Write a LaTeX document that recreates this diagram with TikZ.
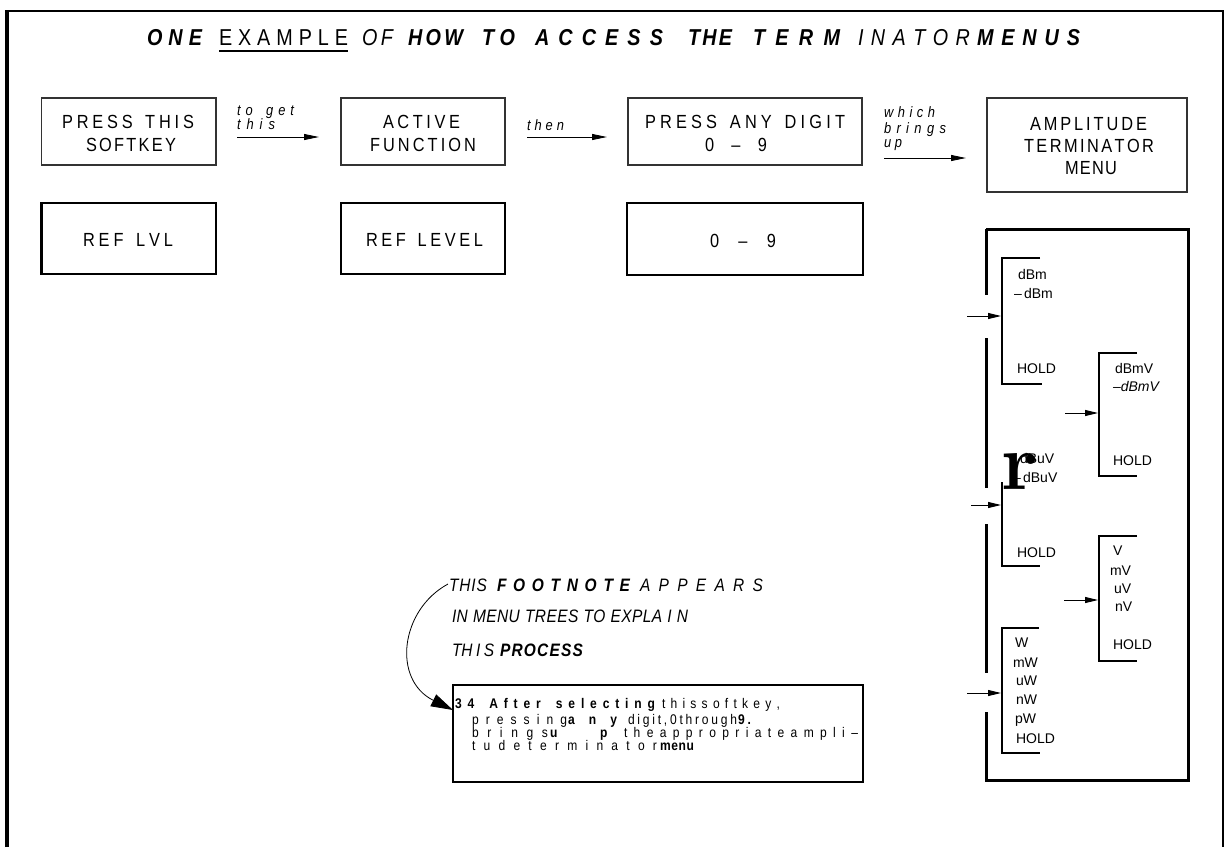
\documentclass[tikz,border=0pt]{standalone}
\usepackage{fontspec}
\usetikzlibrary{arrows.meta}
\newfontfamily\lsans{Liberation Sans}
\newfontfamily\csans[FakeStretch=0.86]{Liberation Sans}
\def\spreadloop#1{\ifx#1\relax\else#1\hfil\expandafter\spreadloop\fi}
\newcommand\spreadto[2]{\hbox to #1pt{\spreadloop#2\relax\unskip}}
\begin{document}
\begin{tikzpicture}[x=1pt,y=-1pt,
 every node/.style={inner sep=0pt, outer sep=0pt},
 thinbox/.style={draw=black!80, line width=1.1pt},
 thickbox/.style={draw=black, line width=2.6pt},
 boxtxt/.style={anchor=base, font=\csans\fontsize{19}{19}\selectfont},
 lbl/.style={anchor=base west, font=\csans\itshape\fontsize{15}{15}\selectfont},
 flow/.style={-{Triangle[length=15pt,width=6pt]}, line width=0.9pt},
 tb/.style={anchor=base west, font=\csans\bfseries\itshape\fontsize{23}{23}\selectfont},
 tl/.style={anchor=base west, font=\csans\fontsize{23}{23}\selectfont},
 tli/.style={anchor=base west, font=\csans\itshape\fontsize{23}{23}\selectfont},
 item/.style={anchor=base west, font=\lsans\fontsize{14}{14}\selectfont},
 itemi/.style={anchor=base west, font=\lsans\itshape\fontsize{14}{14}\selectfont},
 bracket/.style={line width=2pt},
 mflow/.style={-{Triangle[length=13pt,width=6pt]}, line width=0.9pt},
 fl/.style={anchor=base west, font=\csans\itshape\fontsize{18}{18}\selectfont},
 flb/.style={anchor=base west, font=\csans\bfseries\itshape\fontsize{18}{18}\selectfont},
 fr/.style={anchor=base west, font=\csans\fontsize{14}{14}\selectfont},
 fb/.style={anchor=base west, font=\csans\bfseries\fontsize{14}{14}\selectfont},
]
\useasboundingbox (0,0) rectangle (1226,847);
% outer frame
\draw[line width=4pt] (7,847) -- (7,11);
\draw[line width=2.5pt] (5,11) -- (1224,11);
\draw[line width=1.5pt] (1223,10) -- (1223,847);

% title
\node[tb]  (t1)  at (147,45) {\spreadto{55}{ONE}};
\node[tl]  (t2)  at (219,45) {\spreadto{129}{EXAMPLE}};
\draw[line width=2pt] (t2.south west) ++(0,6) -- ++(129,0);
\node[tli] (t3)  at (362,45) {\spreadto{31}{OF}};
\node[tb]  (t4)  at (408,45) {\spreadto{55}{HOW}};
\node[tb]  (t5)  at (482,45) {\spreadto{33}{TO}};
\node[tb]  (t6)  at (535,45) {\spreadto{128}{ACCESS}};
\node[tb]  (t7)  at (688,45) {\spreadto{44}{THE}};
\node[tb]  (t8)  at (753,45) {\spreadto{87}{TERM}};
\node[tli] (t9)  at (858,45) {\spreadto{112}{INATOR}};
\node[tb]  (t10) at (977,45) {\spreadto{103}{MENUS}};

% top row boxes
\node[thinbox, minimum width=174.5pt, minimum height=67pt] (b1) at (128.75,131.5) {};
\node[thinbox, minimum width=164pt, minimum height=67pt] (b2) at (423,131.5) {};
\node[thinbox, minimum width=234pt, minimum height=67pt] (b3) at (745,131.5) {};
\node[thinbox, minimum width=200pt, minimum height=94pt] (b4) at (1087,145) {};
\node[boxtxt] (b1a) at (128,128) {\spreadto{132}{PRESS~THIS}};
\node[boxtxt] (b1b) at (131,151) {\spreadto{90}{SOFTKEY}};
\node[boxtxt] (b2a) at (421.5,128) {\spreadto{77}{ACTIVE}};
\node[boxtxt] (b2b) at (423,151) {\spreadto{106}{FUNCTION}};
\node[boxtxt] (b3a) at (745,128) {\spreadto{200}{PRESS~ANY~DIGIT}};
\node[boxtxt] (b3b) at (736,151) {\spreadto{62}{0~–~9}};
\node[boxtxt] (b4a) at (1088.5,130) {\spreadto{117}{AMPLITUDE}};
\node[boxtxt] (b4b) at (1089,152) {\spreadto{130}{TERMINATOR}};
\node[boxtxt] (b4c) at (1091,174) {\spreadto{52}{MENU}};

% connectors top row
\draw[flow, shorten <=21pt, shorten >=22pt] ([yshift=-5.5pt]b1.east) -- ([yshift=-5.5pt]b2.west);
\draw[flow, shorten <=22pt, shorten >=21pt] ([yshift=-5.5pt]b2.east) -- ([yshift=-5.5pt]b3.west);
\draw[flow, shorten <=22pt, shorten >=21pt] ([yshift=-26.5pt]b3.east) -- ([yshift=-13pt]b4.west);
\node[lbl] (l1) at (237,115) {\spreadto{57}{to~get}};
\node[lbl] (l2) at (237,129) {\spreadto{38}{this}};
\node[lbl] (l3) at (527,130) {\spreadto{37}{then}};
\node[lbl] (l4) at (884,117) {\spreadto{51}{which}};
\node[lbl] (l5) at (884,133) {\spreadto{62}{brings}};
\node[lbl] (l6) at (884,147) {\spreadto{18}{up}};

% second row boxes
\node[thickbox, minimum width=174.5pt, minimum height=71pt] (b5) at (128.75,238.5) {};
\node[thickbox, minimum width=164pt, minimum height=71pt] (b6) at (423,238.5) {};
\node[thickbox, minimum width=236pt, minimum height=72pt] (b7) at (745,239) {};
\node[boxtxt] (b5a) at (128,246) {\spreadto{90}{REF~LVL}};
\node[boxtxt] (b6a) at (424.5,246) {\spreadto{117}{REF~LEVEL}};
\node[boxtxt] (b7a) at (743,247) {\spreadto{66}{0~–~9}};

% menu frame
\draw[line width=3pt] (986,229) -- (1188,229) -- (1188,780) -- (986,780);
\draw[line width=3pt] (986,229) -- (986,295);
\draw[line width=3pt] (986,338) -- (986,488);
\draw[line width=3pt] (986,524) -- (986,673);
\draw[line width=3pt] (986,712) -- (986,781.5);

% brackets
\draw[bracket] (1040,258) -- (1002,258) -- (1002,384) -- (1042,384);
\draw[bracket] (1137,353) -- (1099,353) -- (1099,476) -- (1137,476);
\draw[bracket] (1002,482) -- (1002,566) -- (1040,566);
\draw[bracket] (1137,536) -- (1099,536) -- (1099,661) -- (1137,661);
\draw[bracket] (1039,628) -- (1002,628) -- (1002,753) -- (1040,753);

% menu arrows
\coordinate (m1s) at (967,316);  \coordinate (m1e) at (1001,316);
\coordinate (m2s) at (1065,413); \coordinate (m2e) at (1098,413);
\coordinate (m3s) at (971,505);  \coordinate (m3e) at (1001,505);
\coordinate (m4s) at (1064,600); \coordinate (m4e) at (1098,600);
\coordinate (m5s) at (967,693);  \coordinate (m5e) at (1001,693);
\draw[mflow] (m1s) -- (m1e);
\draw[mflow] (m2s) -- (m2e);
\draw[mflow] (m3s) -- (m3e);
\draw[mflow] (m4s) -- (m4e);
\draw[mflow] (m5s) -- (m5e);

% menu items
\node[item] (i1) at (1018,279) {dBm};
\node[item] (i2) at (1014,298) {–\,dBm};
\node[item] (i3) at (1017,373) {HOLD};
\node[item] (i4) at (1115,373) {dBmV};
\node[itemi] (i5) at (1113,391) {–dBmV};
\node[item] (i6) at (1113,465) {HOLD};
\node[item] (i7) at (1020,463) {dBuV};
\node[item] (i8) at (1013,482) {–\,dBuV};
\node[item] (i9) at (1017,557) {HOLD};
\node[item] (i10) at (1113,555) {V};
\node[item] (i11) at (1110,575) {mV};
\node[item] (i12) at (1114,593) {uV};
\node[item] (i13) at (1115,611) {nV};
\node[item] (i14) at (1113,649) {HOLD};
\node[item] (i15) at (1015,647) {W};
\node[item] (i16) at (1013,667) {mW};
\node[item] (i17) at (1016,685) {uW};
\node[item] (i18) at (1016,704) {nW};
\node[item] (i19) at (1015,723) {pW};
\node[item] (i20) at (1016,743) {HOLD};
\node[anchor=base west, font=\fontsize{80}{80}\selectfont\bfseries] (rr) at (1001,489) {r};

% footnote label
\node[fl]  (f1) at (449,591) {\spreadto{38}{THIS}};
\node[flb] (f2) at (497,591) {\spreadto{133}{FOOTNOTE}};
\node[fl]  (f3) at (640,591) {\spreadto{123}{APPEARS}};
\node[fl]  (f4) at (452,622) {\spreadto{236}{IN~MENU~TREES~TO~EXPLA~I~N}};
\node[fl]  (f5) at (452,656) {TH\kern3.5pt I\kern3.5pt S};
\node[flb] (f6) at (500,656) {\spreadto{83}{PROCESS}};

% footnote box
\node[thickbox, line width=2.5pt, minimum width=410pt, minimum height=97pt] (fbox) at (658,733.5) {};
\node[fb] (n1) at (455,708) {\spreadto{200}{34~After~selecting}};
\node[fr] (n2) at (662,708) {\spreadto{118}{thissoftkey,}};
\node[fr] (n3) at (472,724) {\spreadto{95}{pressing}};
\node[fb] (n4) at (568,724) {\spreadto{49}{any}};
\node[fr] (n5) at (628,724) {\spreadto{109}{digit,0through}};
\node[fb] (n6) at (738,724) {9\kern3pt .};
\node[fr] (n7) at (472,737) {\spreadto{76}{brings}};
\node[fb] (n8) at (550,737) {u};
\node[fb] (n9) at (600,737) {p};
\node[fr] (n10) at (624,737) {\spreadto{234}{theappropriateampli–}};
\node[fr] (n11) at (472,750) {\spreadto{185}{tudeterminator}};
\node[fb] (n12) at (660,750) {\spreadto{34}{menu}};

% curved pointer
\coordinate (fs) at (448,584);
\draw[line width=0.8pt, -{Triangle[length=22pt,width=13pt]}] (fs) .. controls (400,610) and (392,680) .. ([yshift=-25pt]fbox.north west);
\end{tikzpicture}
\end{document}
